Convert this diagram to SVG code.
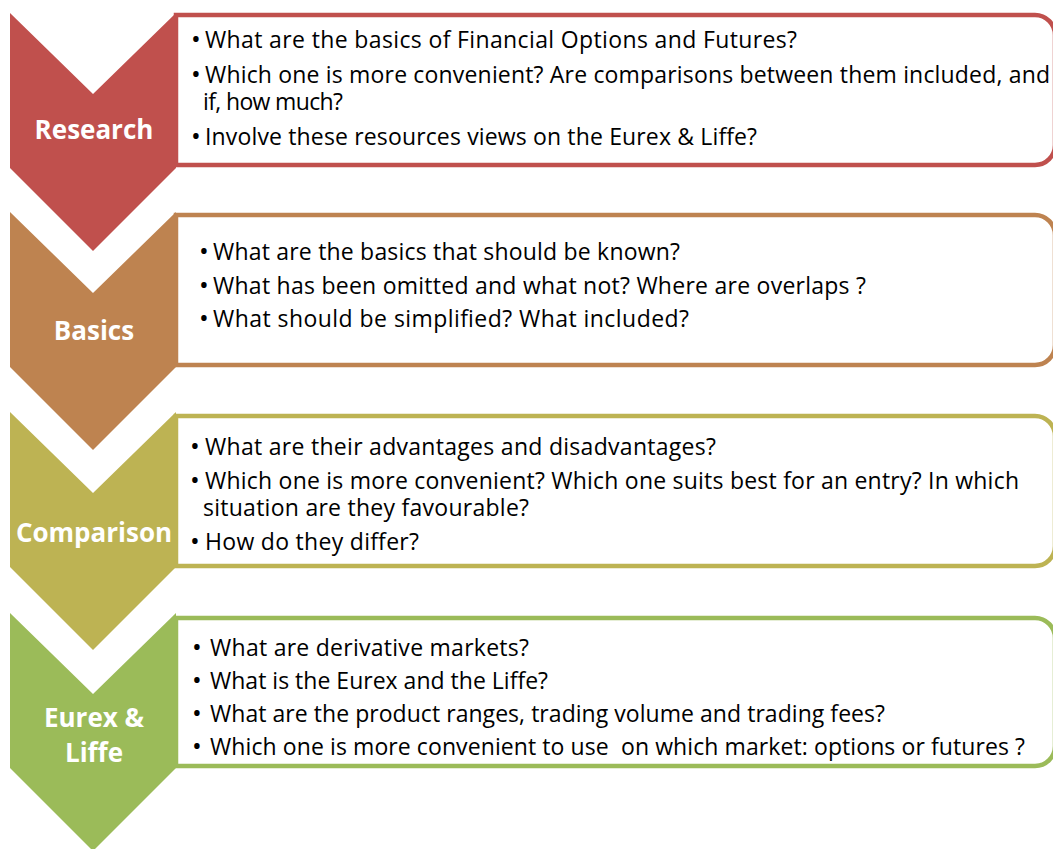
<svg xmlns="http://www.w3.org/2000/svg" width="1053" height="849" viewBox="0 0 1053 849">
<style>
.box{fill:#fff;stroke-width:4.5}
.lbl{font-family:"Open Sans","Liberation Sans",sans-serif;font-weight:bold;font-size:26px;fill:#fff;text-anchor:middle}
.t{font-family:"Open Sans","Liberation Sans",sans-serif;font-size:23px;fill:#000}
.b{font-family:"Open Sans","Liberation Sans",sans-serif;font-size:26px;fill:#000;text-anchor:middle}
</style>
<rect width="1053" height="849" fill="#fff"/>
<g id="research">
<path class="box" stroke="#C0504D" d="M176,15 H1035 A20,20 0 0 1 1055,35 V145 A20,20 0 0 1 1035,165 H176 Z"/>
<polygon fill="#C0504D" points="10,13 93,94 176,13 176,168 93,251 10,168"/>
<text class="lbl" x="94" y="139">Research</text>
<text class="b" x="196" y="48">•</text><text class="t" x="205" y="48" textLength="592">What are the basics of Financial Options and Futures?</text>
<text class="b" x="196" y="83">•</text><text class="t" x="205" y="83" textLength="845">Which one is more convenient? Are comparisons between them included, and</text>
<text class="t" x="203" y="110" textLength="140">if, how much?</text>
<text class="b" x="196" y="145">•</text><text class="t" x="205" y="145" textLength="552">Involve these resources views on the Eurex &amp; Liffe?</text>
</g>
<g id="basics">
<path class="box" stroke="#BE8350" d="M176,215 H1035 A20,20 0 0 1 1055,235 V345 A20,20 0 0 1 1035,365 H176 Z"/>
<polygon fill="#BE8350" points="10,212 93,293 176,212 176,367 93,450 10,367"/>
<text class="lbl" x="94" y="340">Basics</text>
<text class="b" x="204" y="260">•</text><text class="t" x="213" y="260" textLength="467">What are the basics that should be known?</text>
<text class="b" x="204" y="294">•</text><text class="t" x="213" y="294" textLength="653">What has been omitted and what not? Where are overlaps ?</text>
<text class="b" x="204" y="327">•</text><text class="t" x="213" y="327" textLength="476">What should be simplified? What included?</text>
</g>
<g id="comparison">
<path class="box" stroke="#BDB353" d="M176,416 H1035 A20,20 0 0 1 1055,436 V546 A20,20 0 0 1 1035,566 H176 Z"/>
<polygon fill="#BDB353" points="10,412 93,493 176,412 176,567 93,650 10,567"/>
<text class="lbl" x="94" y="542">Comparison</text>
<text class="b" x="195" y="455">•</text><text class="t" x="205" y="455" textLength="511">What are their advantages and disadvantages?</text>
<text class="b" x="195" y="489">•</text><text class="t" x="205" y="489" textLength="814">Which one is more convenient? Which one suits best for an entry? In which</text>
<text class="t" x="203" y="516" textLength="326">situation are they favourable?</text>
<text class="b" x="195" y="550">•</text><text class="t" x="205" y="550" textLength="214">How do they differ?</text>
</g>
<g id="eurex">
<path class="box" stroke="#9BBB59" d="M176,618 H1035 A20,20 0 0 1 1055,638 V746 A20,20 0 0 1 1035,766 H176 Z"/>
<polygon fill="#9BBB59" points="10,613 93,694 176,613 176,768 93,851 10,768"/>
<text class="lbl" x="94" y="727">Eurex &amp;</text>
<text class="lbl" x="94" y="762">Liffe</text>
<text class="b" x="197" y="656">•</text><text class="t" x="210" y="656" textLength="319">What are derivative markets?</text>
<text class="b" x="197" y="689">•</text><text class="t" x="210" y="689" textLength="338">What is the Eurex and the Liffe?</text>
<text class="b" x="197" y="722">•</text><text class="t" x="210" y="722" textLength="675">What are the product ranges, trading volume and trading fees?</text>
<text class="b" x="197" y="755">•</text><text class="t" x="210" y="755" textLength="815" xml:space="preserve">Which one is more convenient to use  on which market: options or futures ?</text>
</g>
<g id="connectors"/>
</svg>
